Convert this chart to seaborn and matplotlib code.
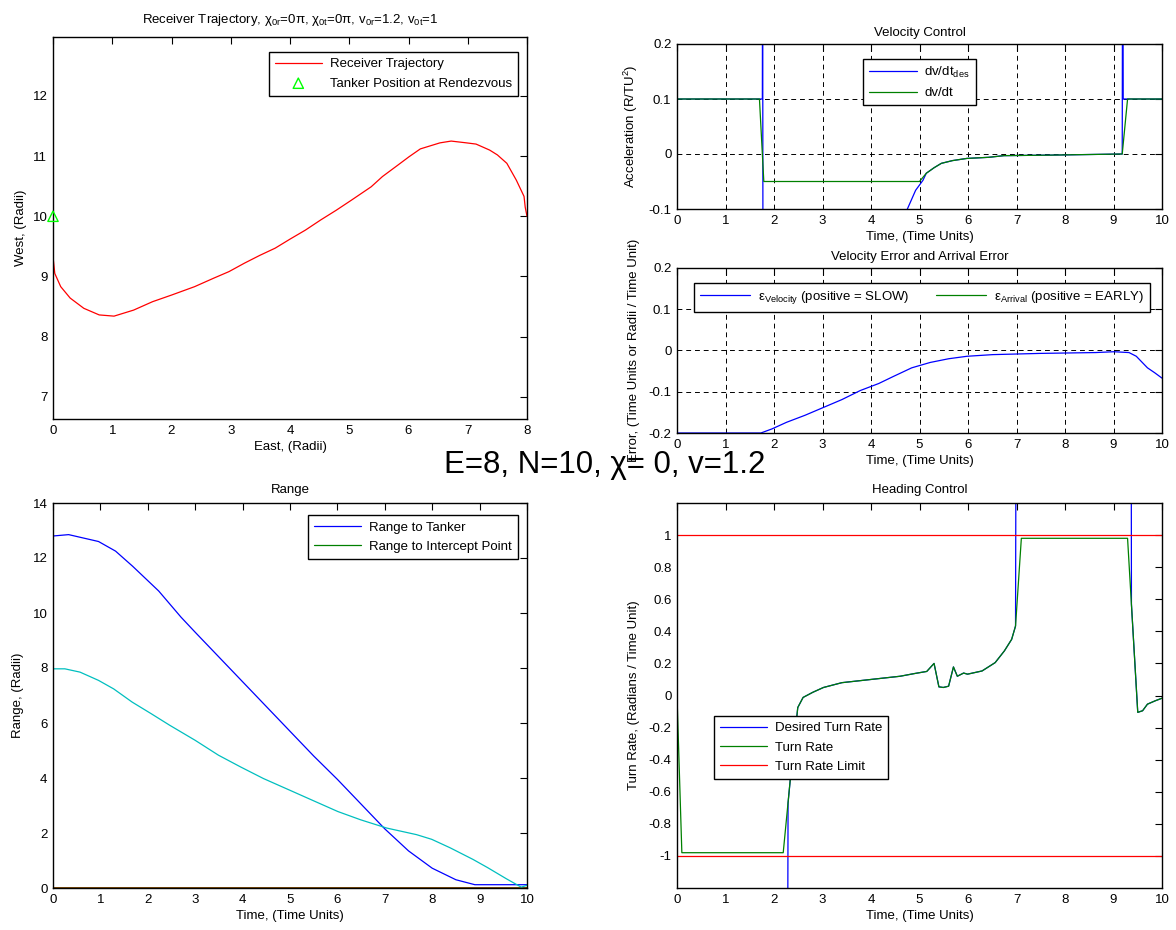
import numpy as np
import pandas as pd
import matplotlib
matplotlib.use("Agg")
import matplotlib.pyplot as plt
from matplotlib.ticker import FuncFormatter, MultipleLocator
import seaborn as sns

# ---------------- data ----------------
traj_east = [8.0, 7.97, 7.95, 7.82, 7.66, 7.5, 7.37, 7.14, 6.98, 6.72, 6.53, 6.2, 6.01, 5.82, 5.56,
             5.37, 5.04, 4.78, 4.52, 4.26, 4.0, 3.75, 3.49, 3.23, 2.97, 2.71, 2.39, 2.0, 1.68,
             1.36, 1.03, 0.78, 0.52, 0.29, 0.13, 0.03, 0.0, 0.0, 0.0]
traj_west = [10.0, 10.15, 10.33, 10.6, 10.88, 11.02, 11.1, 11.2, 11.22, 11.25, 11.22, 11.12, 10.99,
             10.85, 10.66, 10.49, 10.27, 10.1, 9.94, 9.77, 9.62, 9.47, 9.35, 9.22, 9.08, 8.97,
             8.83, 8.69, 8.58, 8.44, 8.34, 8.36, 8.47, 8.64, 8.83, 9.05, 9.33, 9.83, 10.05]
tanker_east = [0.0]
tanker_west = [10.0]

vc_t_des = [0, 1.7, 1.76, 1.765, 1.775, 4.5, 4.75, 4.92, 5.07, 5.14, 5.3, 5.45, 5.68, 5.98,
            6.43, 6.74, 7.72, 9.18, 9.19, 9.2, 10]
vc_des = [0.1, 0.1, 0.1, 0.5, -0.5, -0.2, -0.1, -0.066, -0.048, -0.035, -0.025, -0.017, -0.012,
          -0.008, -0.006, -0.003, -0.002, 0.0, 0.6, 0.1, 0.1]
vc_t_act = [0, 1.7, 1.79, 5.0, 5.14, 5.3, 5.45, 5.68, 5.98, 6.43, 6.74, 7.72, 9.18, 9.29, 10]
vc_act = [0.1, 0.1, -0.05, -0.05, -0.035, -0.025, -0.017, -0.012, -0.008, -0.006, -0.003,
          -0.002, 0.0, 0.1, 0.1]

ve_t = [0, 1.73, 1.96, 2.26, 2.64, 3.02, 3.4, 3.78, 4.16, 4.46, 4.84, 5.22, 5.6, 5.98, 6.51,
        7.5, 8.63, 9.01, 9.32, 9.47, 9.7, 9.85, 10.0]
ve_vel = [-0.2, -0.2, -0.19, -0.174, -0.157, -0.138, -0.119, -0.097, -0.08, -0.063, -0.042,
          -0.029, -0.02, -0.014, -0.01, -0.007, -0.005, -0.003, -0.005, -0.014, -0.042, -0.054,
          -0.067]

rng_t = [0, 0.33, 0.96, 1.32, 1.68, 2.23, 2.7, 3.0, 3.5, 4.0, 4.5, 5.0, 5.5, 6.0, 6.5, 7.0,
         7.5, 8.0, 8.5, 8.9, 10]
rng_tanker = [12.8, 12.85, 12.6, 12.25, 11.7, 10.8, 9.85, 9.3, 8.4, 7.5, 6.6, 5.7, 4.8, 3.95,
              3.05, 2.15, 1.35, 0.72, 0.3, 0.12, 0.12]
rng_t2 = [0, 0.25, 0.57, 0.96, 1.28, 1.67, 2.07, 2.46, 3.0, 3.49, 3.96, 4.44, 4.99, 5.46, 6.01,
          6.49, 7.04, 7.67, 7.99, 8.38, 8.86, 9.17, 9.57, 9.88, 10]
rng_other = [7.97, 7.97, 7.85, 7.55, 7.24, 6.76, 6.34, 5.92, 5.37, 4.83, 4.4, 3.98, 3.56, 3.2,
             2.78, 2.48, 2.18, 1.94, 1.77, 1.46, 1.04, 0.74, 0.33, 0.03, 0.1]
rng_zero_t = [0, 10]
rng_intercept = [0, 0]
rng_zero_red = [0, 0]

hc_t = [0, 0.1, 2.19, 2.34, 2.49, 2.6, 2.8, 3.02, 3.4, 4.0, 4.6, 4.9, 5.15, 5.3, 5.4, 5.49,
        5.6, 5.7, 5.78, 5.91, 5.99, 6.29, 6.56, 6.75, 6.9, 6.98, 7.1, 9.29, 9.5, 9.6, 9.7,
        9.86, 10]
hc_turn = [0, -0.98, -0.98, -0.51, -0.075, -0.012, 0.02, 0.05, 0.08, 0.1, 0.12, 0.137, 0.15,
           0.2, 0.054, 0.05, 0.058, 0.178, 0.12, 0.14, 0.133, 0.153, 0.205, 0.278, 0.35, 0.433,
           0.98, 0.98, -0.105, -0.095, -0.054, -0.033, -0.017]
hc_t_des = [0, 0.01, 2.27, 2.29, 2.34, 2.49, 2.6, 2.8, 3.02, 3.4, 4.0, 4.6, 4.9, 5.15, 5.3,
            5.4, 5.49, 5.6, 5.7, 5.78, 5.91, 5.99, 6.29, 6.56, 6.75, 6.9, 6.98, 7.0, 9.36,
            9.37, 9.5, 9.6, 9.7, 9.86, 10]
hc_des = [0, -3, -3, -0.67, -0.51, -0.075, -0.012, 0.02, 0.05, 0.08, 0.1, 0.12, 0.137, 0.15,
          0.2, 0.054, 0.05, 0.058, 0.178, 0.12, 0.14, 0.133, 0.153, 0.205, 0.278, 0.35, 0.433,
          3, 3, 0.567, -0.105, -0.095, -0.054, -0.033, -0.017]
limit_t = [0, 10]
limit_hi = [1, 1]
limit_lo = [-1, -1]

# ---------------- style ----------------
sns.set_theme(style="white")
plt.rcParams['font.family'] = ['Liberation Sans', 'DejaVu Sans']
plt.rcParams['mathtext.fontset'] = 'custom'
plt.rcParams['mathtext.rm'] = 'Liberation Sans'
plt.rcParams['mathtext.it'] = 'Liberation Sans:italic'
plt.rcParams['mathtext.bf'] = 'Liberation Sans:bold'
plt.rcParams['axes.unicode_minus'] = False
plt.rcParams['axes.edgecolor'] = 'black'
plt.rcParams['axes.linewidth'] = 1.0
plt.rcParams['text.color'] = 'black'
plt.rcParams['axes.labelcolor'] = 'black'
plt.rcParams['axes.titlecolor'] = 'black'
plt.rcParams['xtick.color'] = 'black'
plt.rcParams['ytick.color'] = 'black'
plt.rcParams['xtick.labelcolor'] = 'black'
plt.rcParams['ytick.labelcolor'] = 'black'

FS = 9.5
BLUE = (0, 0, 1)
GREEN = (0, 0.5, 0)
RED = (1, 0, 0)
CYAN = (0, 0.75, 0.75)
LIME = (0, 1, 0)
LW = 0.9

fig = plt.figure(figsize=(11.76, 9.3), dpi=100)
W, H = 1176.0, 930.0


def make_ax(l, r, t, b):
    return fig.add_axes([l / W, 1 - b / H, (r - l) / W, (b - t) / H])


ax_tl = make_ax(53, 527, 37, 419)
ax_tr = make_ax(677, 1162, 44, 209)
ax_mr = make_ax(677, 1162, 268, 433)
ax_bl = make_ax(53, 527, 503, 888)
ax_br = make_ax(677, 1162, 503, 888)

fmt = FuncFormatter(lambda v, p: f'{v:g}')


def style(ax):
    ax.tick_params(direction='in', length=5, width=0.8, top=True, right=True,
                   labelsize=FS, colors='black', pad=4)
    ax.xaxis.set_major_formatter(fmt)
    ax.yaxis.set_major_formatter(fmt)
    for s in ax.spines.values():
        s.set_visible(True)
        s.set_color('black')
        s.set_linewidth(1.0)


def line(ax, x, y, color, lw=LW, **kw):
    sns.lineplot(x=x, y=y, ax=ax, color=color, lw=lw, sort=False, estimator=None,
                 legend=False, **kw)
    return ax.lines[-1]


def leg(ax, handles, labels, **kw):
    lg = ax.legend(handles, labels, fontsize=FS, frameon=True, fancybox=False,
                   framealpha=1, facecolor='white', edgecolor='black',
                   borderpad=0.45, labelspacing=0.55, handletextpad=0.6, **kw)
    lg.get_frame().set_linewidth(1.0)
    for t in lg.get_texts():
        t.set_color('black')
    return lg


# ---- Top-left: trajectory ----
ax = ax_tl
h1 = line(ax, traj_east, traj_west, RED)
sns.scatterplot(x=tanker_east, y=tanker_west, ax=ax, marker='^', s=55,
                facecolor='none', edgecolor=LIME, linewidth=1.0, legend=False, zorder=4,
                clip_on=False)
h2 = ax.collections[-1]
ax.set_xlim(0, 8)
ax.set_ylim(6.63, 12.98)
ax.xaxis.set_major_locator(MultipleLocator(1))
ax.set_yticks([7, 8, 9, 10, 11, 12])
style(ax)
ax.set_title(r'Receiver Trajectory, χ$_{\mathrm{0r}}$=0π, χ$_{\mathrm{0t}}$=0π, '
             r'v$_{\mathrm{0r}}$=1.2, v$_{\mathrm{0t}}$=1', fontsize=FS, pad=10)
ax.set_xlabel('East, (Radii)', fontsize=FS, labelpad=3)
ax.set_ylabel('West, (Radii)', fontsize=FS, labelpad=4)
leg(ax, [h1, h2], ['Receiver Trajectory', 'Tanker Position at Rendezvous'],
    loc='upper right', bbox_to_anchor=(0.995, 0.978), handlelength=3.6, scatterpoints=1)

# ---- Top-right: velocity control ----
ax = ax_tr
hb = line(ax, vc_t_des, vc_des, BLUE)
hg = line(ax, vc_t_act, vc_act, GREEN)
ax.set_xlim(0, 10)
ax.set_ylim(-0.1, 0.2)
ax.xaxis.set_major_locator(MultipleLocator(1))
ax.set_yticks([-0.1, 0, 0.1, 0.2])
style(ax)
ax.grid(True, color='black', linestyle=(0, (5, 4)), linewidth=0.7)
ax.set_title('Velocity Control', fontsize=FS, pad=6)
ax.set_xlabel('Time, (Time Units)', fontsize=FS, labelpad=3)
ax.set_ylabel(r'Acceleration (R/TU$^{2}$)', fontsize=FS, labelpad=6)
leg(ax, [hb, hg], [r'dv/dt$_{\mathrm{des}}$', 'dv/dt'], loc='upper center',
    bbox_to_anchor=(0.5, 0.95), handlelength=3.6)

# ---- Middle-right: velocity error ----
ax = ax_mr
hv = line(ax, ve_t, ve_vel, BLUE)
ha = ax.plot([], [], color=GREEN, lw=LW)[0]
ax.set_xlim(0, 10)
ax.set_ylim(-0.2, 0.2)
ax.xaxis.set_major_locator(MultipleLocator(1))
ax.set_yticks([-0.2, -0.1, 0, 0.1, 0.2])
style(ax)
ax.grid(True, color='black', linestyle=(0, (5, 4)), linewidth=0.7)
ax.set_title('Velocity Error and Arrival Error', fontsize=FS, pad=6)
ax.set_xlabel('Time, (Time Units)', fontsize=FS, labelpad=3)
ax.set_ylabel('Error, (Time Units or Radii / Time Unit)', fontsize=FS, labelpad=6)
leg(ax, [hv, ha], [r'ε$_{\mathrm{Velocity}}$ (positive = SLOW)',
                   r'ε$_{\mathrm{Arrival}}$ (positive = EARLY)'],
    loc='upper left', bbox_to_anchor=(0.022, 0.95), ncol=2, handlelength=3.8,
    columnspacing=2.0)

# ---- Bottom-left: range ----
ax = ax_bl
r1 = line(ax, rng_t, rng_tanker, BLUE)
line(ax, rng_zero_t, rng_intercept, GREEN, lw=2.0)
line(ax, rng_zero_t, rng_zero_red, RED, lw=2.0, alpha=0.5)
line(ax, rng_t2, rng_other, CYAN)
ax.set_xlim(0, 10)
ax.set_ylim(0, 14)
ax.xaxis.set_major_locator(MultipleLocator(1))
ax.yaxis.set_major_locator(MultipleLocator(2))
style(ax)
ax.set_title('Range', fontsize=FS, pad=7)
ax.set_xlabel('Time, (Time Units)', fontsize=FS, labelpad=3)
ax.set_ylabel('Range, (Radii)', fontsize=FS, labelpad=6)
hr2 = plt.Line2D([], [], color=GREEN, lw=LW)
leg(ax, [r1, hr2], ['Range to Tanker', 'Range to Intercept Point'],
    loc='upper right', bbox_to_anchor=(0.995, 0.985), handlelength=3.6)

# ---- Bottom-right: heading control ----
ax = ax_br
d1 = line(ax, hc_t_des, hc_des, BLUE)
d2 = line(ax, hc_t, hc_turn, GREEN)
d3 = line(ax, limit_t, limit_hi, RED)
line(ax, limit_t, limit_lo, RED)
ax.set_xlim(0, 10)
ax.set_ylim(-1.2, 1.2)
ax.xaxis.set_major_locator(MultipleLocator(1))
ax.set_yticks([-1, -0.8, -0.6, -0.4, -0.2, 0, 0.2, 0.4, 0.6, 0.8, 1])
style(ax)
ax.set_title('Heading Control', fontsize=FS, pad=7)
ax.set_xlabel('Time, (Time Units)', fontsize=FS, labelpad=3)
ax.set_ylabel('Turn Rate, (Radians / Time Unit)', fontsize=FS, labelpad=6)
leg(ax, [d1, d2, d3], ['Desired Turn Rate', 'Turn Rate', 'Turn Rate Limit'],
    loc='upper left', bbox_to_anchor=(0.062, 0.464), handlelength=3.6)

fig.text(605 / W, 0.5, 'E=8, N=10, χ= 0, v=1.2', fontsize=22.5, ha='center', va='center',
         color='black')

fig.savefig('out.png', dpi=100)
